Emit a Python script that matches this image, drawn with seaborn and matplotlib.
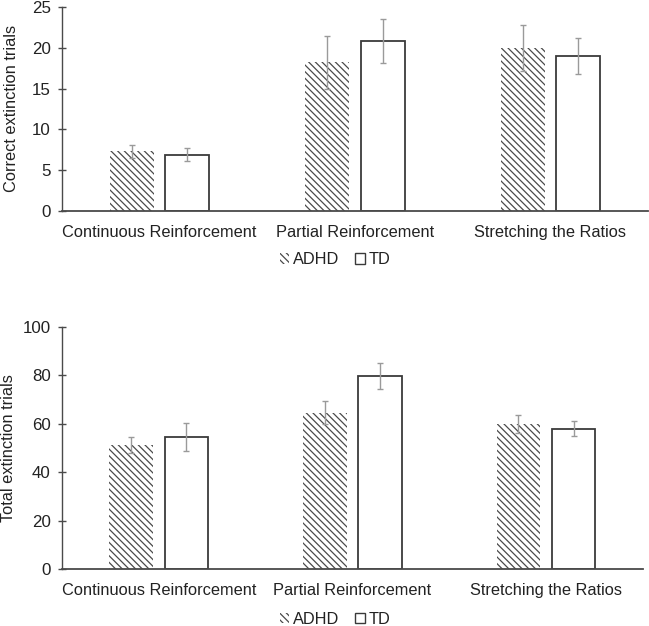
import pandas as pd
import numpy as np
import matplotlib
matplotlib.use("Agg")
from matplotlib import pyplot as plt
from matplotlib.patches import Patch
import seaborn as sns

categories = ["Continuous Reinforcement", "Partial Reinforcement", "Stretching the Ratios"]
groups = ["ADHD", "TD"]

# correct extinction trials (mean, error)
correct_adhd = [7.3, 18.2, 20.0]
correct_adhd_err = [0.8, 3.2, 2.8]
correct_td = [6.9, 20.8, 18.95]
correct_td_err = [0.8, 2.7, 2.2]

# total extinction trials (mean, error)
total_adhd = [51.3, 64.7, 60.0]
total_adhd_err = [3.3, 4.6, 3.6]
total_td = [54.6, 79.9, 58.1]
total_td_err = [5.8, 5.3, 3.1]

sns.set_style("white")
plt.rcParams['font.family'] = ['Liberation Sans', 'DejaVu Sans']
plt.rcParams['hatch.linewidth'] = 0.9

AXCOL = '#4a4a4a'
EDGE = '#3a3a3a'
HATCH = '\\\\\\\\\\'
FS = 11.8


def make_df(adhd, td):
    return pd.DataFrame({
        'category': categories * 2,
        'group': ['ADHD'] * 3 + ['TD'] * 3,
        'value': adhd + td,
    })


def draw_panel(ax, adhd, adhd_err, td, td_err, ymax, step, ylabel):
    df = make_df(adhd, td)
    sns.barplot(data=df, x='category', y='value', hue='group', hue_order=groups,
                palette={'ADHD': 'white', 'TD': 'white'}, width=0.57, gap=0.21,
                errorbar=None, legend=False, ax=ax)
    #ADHD bars: hatch only, TD bars: outlined
    for bar in ax.containers[0]:
        bar.set_hatch(HATCH)
        bar.set_edgecolor('#4a4a4a')
        bar.set_linewidth(0)
    for bar in ax.containers[1]:
        bar.set_edgecolor(EDGE)
        bar.set_linewidth(1.3)
    for cont, errs in zip(ax.containers[:2], [adhd_err, td_err]):
        xs = [b.get_x() + b.get_width() / 2 for b in cont]
        ys = [b.get_height() for b in cont]
        ax.errorbar(xs, ys, yerr=errs, fmt='none', ecolor='#9a9a9a',
                    elinewidth=1.0, capsize=2.5, capthick=1.0, zorder=5)

    ax.set_xlim(-0.5, 2.5)
    ax.set_ylim(0, ymax)
    ax.set_yticks(np.arange(0, ymax + 1, step))
    ax.set_xlabel('')
    ax.set_ylabel(ylabel, fontsize=FS, color='#222222')
    sns.despine(ax=ax)
    ax.spines['left'].set_color(AXCOL)
    ax.spines['bottom'].set_color(AXCOL)
    ax.spines['left'].set_linewidth(1.0)
    ax.spines['bottom'].set_linewidth(1.3)
    ax.tick_params(axis='y', which='major', left=True, direction='inout', length=6,
                   width=1.0, color=AXCOL, labelsize=FS + 0.4, pad=5,
                   labelcolor='#222222')
    ax.tick_params(axis='x', length=0, labelsize=FS, pad=10, labelcolor='#222222')


fig = plt.figure(figsize=(6.49, 6.26), dpi=100)
ax1 = fig.add_axes([0.0955, 0.663, 0.903, 0.326])
ax2 = fig.add_axes([0.0955, 0.0906, 0.895, 0.387])

draw_panel(ax1, correct_adhd, correct_adhd_err, correct_td, correct_td_err,
           25, 5, 'Correct extinction trials')
draw_panel(ax2, total_adhd, total_adhd_err, total_td, total_td_err,
           100, 20, 'Total extinction trials')
ax1.yaxis.set_label_coords(-0.074, 0.5)
ax2.yaxis.set_label_coords(-0.079, 0.5)

handles = [Patch(facecolor='white', edgecolor='#4a4a4a', hatch=HATCH, linewidth=0),
           Patch(facecolor='white', edgecolor=EDGE, linewidth=1.0)]
for ypos in [0.585, 0.011]:
    fig.legend(handles, groups, loc='center', bbox_to_anchor=(0.516, ypos),
               ncol=2, frameon=False, fontsize=FS, handlelength=0.6,
               handleheight=0.6, handletextpad=0.2, columnspacing=1.0,
               labelcolor='#222222')

fig.savefig('out.png', dpi=100)
